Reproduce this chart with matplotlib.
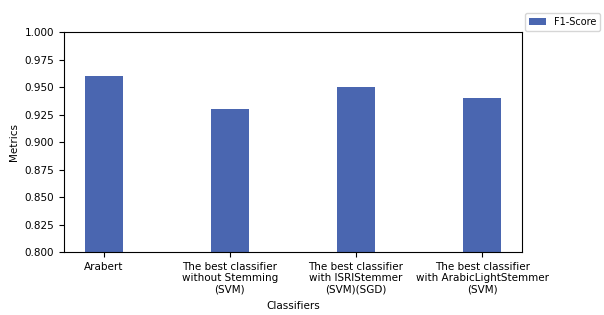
import numpy as np
import matplotlib.pyplot as plt

# data
classifiers = ['Arabert',
               'The best classifier\nwithout Stemming\n(SVM)',
               'The best classifier\nwith ISRIStemmer\n(SVM)(SGD)',
               'The best classifier\nwith ArabicLightStemmer\n(SVM)']
f1_score = [0.96, 0.93, 0.95, 0.94]

plt.rcParams['font.size'] = 7.5

fig = plt.figure(figsize=(6.04, 3.15), dpi=100)
ax = fig.add_axes([0.106, 0.2, 0.758, 0.698])

x = np.arange(len(classifiers))
ax.bar(x, f1_score, width=0.3, color='#4a66b0', label='F1-Score')

ax.set_ylim(0.8, 1.0)
ax.set_xticks(x)
ax.set_xticklabels(classifiers)
ax.set_xlabel('Classifiers')
ax.xaxis.set_label_coords(0.5, -0.225)
ax.set_ylabel('Metrics')

ax.legend(loc='upper left', bbox_to_anchor=(1.0, 1.1), fontsize=7,
          borderaxespad=0.3, handlelength=1.8)

fig.savefig('out.png', dpi=100)
